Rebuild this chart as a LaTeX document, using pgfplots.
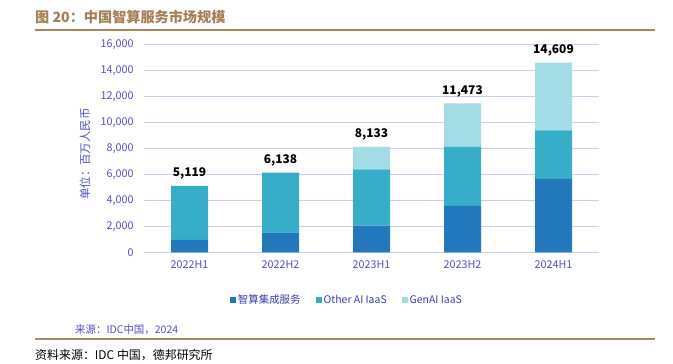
\documentclass[border=0pt]{standalone}
\usepackage{fontspec}
\usepackage{pgfplots}
\pgfplotsset{compat=1.18}
\setmainfont{Noto Sans CJK SC}
\definecolor{c1}{HTML}{2378BC}
\definecolor{c2}{HTML}{37AEC9}
\definecolor{c3}{HTML}{A3DBE6}
\definecolor{tickc}{HTML}{4E4EC8}
\definecolor{legc}{HTML}{3C3CB0}
\definecolor{gridc}{HTML}{CACAF5}
\definecolor{titlec}{HTML}{A57E55}
\definecolor{rulec}{HTML}{A98660}
\begin{document}
\begin{tikzpicture}[x=1bp,y=1bp]
\path (0,0) rectangle (673,363);
\coordinate (A) at (144,110.7);
\node[anchor=west, inner sep=0, text=titlec, font=\fontsize{14.2}{15}\selectfont\bfseries] at (35,346) {图 20：中国智算服务市场规模};
\draw[rulec, line width=1.3bp] (35,333) -- (655,333);
\draw[rulec, line width=1.3bp] (35,24) -- (655,24);
\node[rotate=90, inner sep=0, text=tickc, font=\fontsize{11.5}{12}\selectfont] at (85,209) {单位：百万人民币};
\node[anchor=west, inner sep=0, text=tickc, font=\fontsize{10.5}{12}\selectfont] at (75,33) {来源：IDC中国，2024};
\node[anchor=west, inner sep=0, text=black, font=\fontsize{12}{13}\selectfont] at (35,7.5) {资料来源：IDC 中国，德邦研究所};
\begin{axis}[
  at={(A)}, anchor=south west,
  scale only axis, width=455bp, height=207.6bp,
  ybar stacked, bar width=37bp,
  xmin=-0.5, xmax=4.5, ymin=0, ymax=16000,
  xtick={0,1,2,3,4},
  xticklabels={2022H1,2022H2,2023H1,2023H2,2024H1},
  ytick={0,2000,4000,6000,8000,10000,12000,14000,16000},
  scaled y ticks=false,
  ymajorgrids, major grid style={draw=gridc, line width=1bp},
  axis line style={draw=none}, major tick length=0pt,
  tick label style={font=\fontsize{10.8}{12}\selectfont, text=tickc},
  yticklabel style={xshift=-7bp},
  xticklabel style={yshift=-5bp},
  /pgf/number format/fixed,
  /pgf/number format/1000 sep={,},
  /pgf/number format/assume math mode=true,
  legend style={at={(0.446,-0.23)}, anchor=center, draw=none, fill=none,
    font=\fontsize{10.5}{12}\selectfont, text=legc, legend columns=3,
    /tikz/every even column/.append style={column sep=13bp}},
  legend image code/.code={\fill[#1] (0bp,-3bp) rectangle (6bp,3bp);},
]
\addplot[fill=c1, draw=none] coordinates {(0,950) (1,1510) (2,2050) (3,3570) (4,5650)};
\addplot[fill=c2, draw=none] coordinates {(0,4169) (1,4628) (2,4350) (3,4570) (4,3755)};
\addplot[fill=c3, draw=none] coordinates {(0,0) (1,0) (2,1733) (3,3333) (4,5204)};
\legend{智算集成服务,Other AI IaaS,GenAI IaaS}
\end{axis}
\begin{axis}[
  at={(A)}, anchor=south west,
  scale only axis, width=455bp, height=207.6bp,
  xmin=-0.5, xmax=4.5, ymin=0, ymax=16000,
  hide axis,
  /pgf/number format/fixed,
  /pgf/number format/1000 sep={,},
  /pgf/number format/assume math mode=true,
]
\addplot[draw=none, mark=none, nodes near coords, point meta=y,
  nodes near coords style={anchor=south, yshift=3bp, font=\fontsize{12}{13}\selectfont\bfseries, text=black}]
  coordinates {(0,5119) (1,6138) (2,8133) (3,11473) (4,14609)};
\end{axis}
\end{tikzpicture}
\end{document}
